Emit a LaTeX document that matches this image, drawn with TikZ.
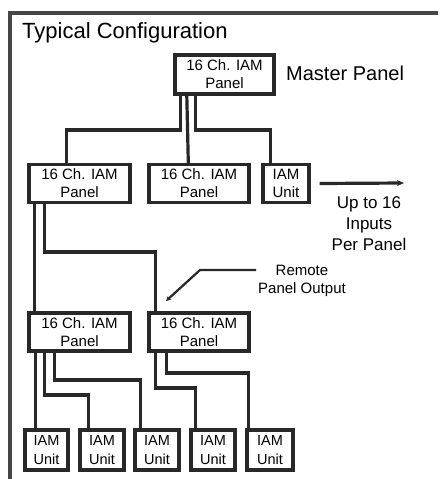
\documentclass[tikz,border=0pt]{standalone}
\usepackage{fontspec}
\setmainfont{Liberation Sans}
\usetikzlibrary{arrows.meta}
\definecolor{ink}{RGB}{40,40,40}
\definecolor{framec}{RGB}{70,70,70}
\begin{document}
\begin{tikzpicture}[x=1pt,y=-1pt,
  box/.style={draw=ink,line width=3.4pt,fill=white,inner sep=0pt,align=center,
    font=\fontsize{15}{18}\selectfont,text=black},
  panel/.style={box,minimum width=101pt,minimum height=38pt},
  unitbox/.style={box,minimum width=44pt,minimum height=40pt,font=\fontsize{14.5}{19}\selectfont},
  wire/.style={draw=ink,line width=3.2pt},
  lbl/.style={inner sep=0pt,align=center,text=black}]
\useasboundingbox (0,0) rectangle (439,479);
\fill[white] (0,0) rectangle (439,479);
% frame
\draw[framec,line width=3.5pt] (10,480) -- (10,13) -- (438,13);
% title
\node[lbl,anchor=base west,font=\fontsize{22}{24}\selectfont] (title) at (22,38) {Typical Configuration};
% master
\node[panel,minimum width=99pt,minimum height=39pt] (m) at (224.5,74.5) {16 Ch. IAM\\Panel};
\node[lbl,anchor=base west,font=\fontsize{20}{24}\selectfont] (ml) at (286,80) {Master Panel};
% row 2
\node[panel] (p1) at (79.5,183.5) {16 Ch. IAM\\Panel};
\node[panel,minimum width=100pt] (p2) at (199,183.5) {16 Ch. IAM\\Panel};
\node[box,minimum width=46pt,minimum height=38pt] (u0) at (286,183.5) {IAM\\Unit};
% row 3
\node[panel] (p3) at (79.5,332) {16 Ch. IAM\\Panel};
\node[panel,minimum width=100pt] (p4) at (199,332) {16 Ch. IAM\\Panel};
% units
\node[unitbox,minimum width=43pt] (u1) at (46.5,450) {IAM\\Unit};
\node[unitbox] (u2) at (102,450) {IAM\\Unit};
\node[unitbox] (u3) at (157,450) {IAM\\Unit};
\node[unitbox] (u4) at (213,450) {IAM\\Unit};
\node[unitbox,minimum width=46pt] (u5) at (270,450) {IAM\\Unit};
% labels
\node[lbl,font=\fontsize{17}{21}\selectfont] (up) at (369,224) {Up to 16\\Inputs\\Per Panel};
\node[lbl,font=\fontsize{15}{18}\selectfont] (rem) at (302,281) {Remote\\Panel Output};
% connectors master
\draw[wire] ([xshift=7.5pt]m.south west) |- (130,130) -| ([xshift=39pt]p1.north west);
\draw[wire] ([xshift=13.5pt]m.south west) -- ([xshift=41pt]p2.north west);
\draw[wire] ([xshift=22.5pt]m.south west) |- (200,130) -| ([xshift=9pt]u0.north west);
% row2 -> row3
\draw[wire] ([xshift=7pt]p1.south west) -- ([xshift=7pt]p3.north west);
\draw[wire] ([xshift=17pt]p1.south west) |- (100,252) -| ([xshift=8pt]p4.north west);
% row3 -> units
\draw[wire] ([xshift=8pt]p3.south west) -- ([xshift=12pt]u1.north west);
\draw[wire] ([xshift=17pt]p3.south west) |- (70,395) -| ([xshift=10pt]u2.north west);
\draw[wire] ([xshift=27pt]p3.south west) |- (100,380) -| ([xshift=7pt]u3.north west);
\draw[wire] ([xshift=8pt]p4.south west) |- (180,388) -| ([xshift=6pt]u4.north west);
\draw[wire] ([xshift=19pt]p4.south west) |- (200,373) -| ([xshift=3pt]u5.north west);
% arrows
\coordinate (ae) at (404,183);
\draw[wire,-{Stealth[length=7pt,width=6pt]}] ([xshift=9pt]u0.east) -- (ae);
\coordinate (rs) at (256,270);
\draw[draw=ink,line width=2.2pt,-{Stealth[length=5pt,width=5pt]}] (rs) -- (200,270) -- (166,301);
\end{tikzpicture}
\end{document}
